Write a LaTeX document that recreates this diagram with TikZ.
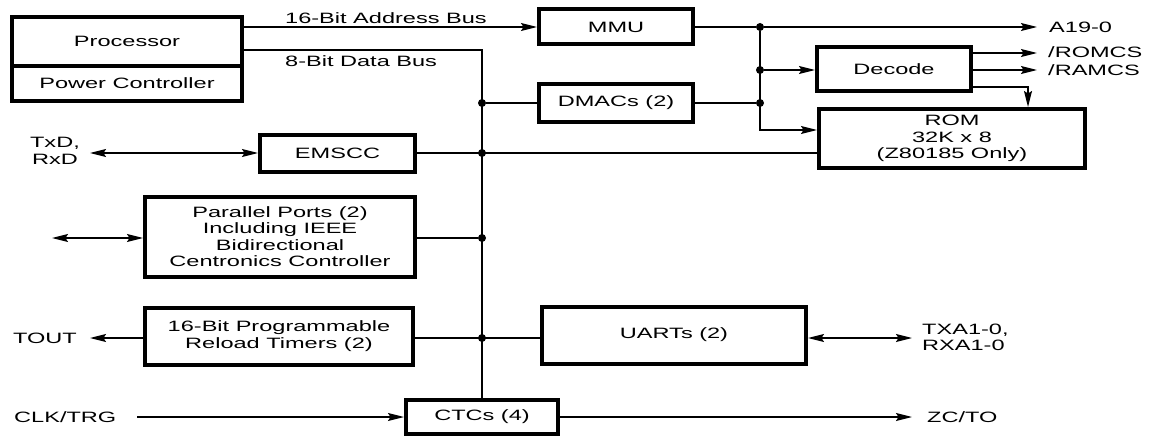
\documentclass[tikz,border=0pt]{standalone}
\usepackage{fontspec}
\setmainfont{Liberation Sans}[FakeStretch=1.57]
\usepackage{tikz}
\usetikzlibrary{arrows.meta,positioning}

\begin{document}
\begin{tikzpicture}[x=1pt, y=-1pt,
    font=\fontsize{15}{16.5}\selectfont,
    blk/.style={draw, line width=4pt, inner sep=2pt, align=center},
    conn/.style={line width=1.4pt},
    arr/.style={conn, -{Stealth[length=16pt,width=8pt,inset=2.5pt]}},
    darr/.style={conn, {Stealth[length=16pt,width=8pt,inset=2.5pt]}-{Stealth[length=16pt,width=8pt,inset=2.5pt]}},
    jdot/.style={circle, fill, inner sep=0pt, minimum size=8pt},
    lbl/.style={inner sep=0pt}]
    \useasboundingbox (0,0) rectangle (1152,436);

    % Processor block
    \node[blk, minimum width=230, minimum height=49] (proc) at (127,41.5) {Processor};
    \node[blk, minimum width=230, minimum height=35, below=-4pt of proc] (power) {Power Controller};

    % Blocks on the buses
    \node[blk, minimum width=154, minimum height=35] (mmu) at (616,27) {MMU};
    \node[blk, minimum width=154, minimum height=37] (dmacs) at (616,103) {DMACs (2)};
    \node[blk, minimum width=154, minimum height=44] (decode) at (894,69) {Decode};
    \node[blk, minimum width=266, minimum height=59] (rom) at (952,138.5) {ROM\\32K x 8\\(Z80185 Only)};
    \node[blk, minimum width=155, minimum height=37] (emscc) at (337.5,153) {EMSCC};
    \node[blk, minimum width=270, minimum height=80] (pports) at (280,236.5)
        {Parallel Ports (2)\\Including IEEE\\Bidirectional\\Centronics Controller};
    \node[blk, minimum width=268, minimum height=57] (timers) at (279,336)
        {16-Bit Programmable\\Reload Timers (2)};
    \node[blk, minimum width=264, minimum height=57] (uarts) at (674,335) {UARTs (2)};
    \node[blk, minimum width=152, minimum height=34] (ctcs) at (482,417) {CTCs (4)};

    % Junctions
    \coordinate (dcorner) at (482,50);
    \node[jdot] (b1) at (482,103) {};
    \node[jdot] (b2) at (482,153) {};
    \node[jdot] (b3) at (482,238) {};
    \node[jdot] (b4) at (482,338) {};
    \node[jdot] (j1) at (760,27) {};
    \node[jdot] (j2) at (760,70) {};
    \node[jdot] (j3) at (760,103) {};

    % Free ends
    \coordinate (a19) at (1037,27);
    \coordinate (romcs) at (1037,53);
    \coordinate (ramcs) at (1037,70);
    \coordinate (rtap) at (1028,87);
    \coordinate (txd) at (90,153);
    \coordinate (ppext) at (52,238);
    \coordinate (tout) at (90,338);
    \coordinate (txa) at (912,338);
    \coordinate (clk) at (137,417);
    \coordinate (zcto) at (912,417);

    % Address side
    \draw[arr] (proc.east |- mmu.west) -- (mmu.west);
    \draw[conn] (mmu.east) -- (j1);
    \draw[arr] (j1) -- (a19);
    \draw[arr] (j1) |- (rom.west |- 0,130);
    \draw[arr] (j2) -- (decode.west |- j2);
    \draw[conn] (dmacs.east) -- (j3);
    \draw[arr] (decode.east |- romcs) -- (romcs);
    \draw[arr] (decode.east |- ramcs) -- (ramcs);
    \draw[arr] (decode.east |- rtap) -| (rtap |- rom.north);

    % Data bus
    \draw[conn] (proc.east |- dcorner) -- (dcorner) -- (ctcs.north);
    \draw[conn] (b1) -- (dmacs.west);
    \draw[conn] (emscc.east) -- (rom.west |- emscc.east);
    \draw[conn] (pports.east |- b3) -- (b3);
    \draw[conn] (timers.east |- b4) -- (uarts.west |- b4);

    % Outside connections
    \draw[darr] (txd) -- (emscc.west);
    \draw[darr] (ppext) -- (pports.west |- ppext);
    \draw[arr] (timers.west |- tout) -- (tout);
    \draw[darr] (uarts.east |- txa) -- (txa);
    \draw[arr] (clk) -- (ctcs.west);
    \draw[arr] (ctcs.east) -- (zcto);

    % Labels
    \node[lbl, anchor=base west] (abuslbl) at (285,24) {16-Bit Address Bus};
    \node[lbl, anchor=base west] (dbuslbl) at (285,66.5) {8-Bit Data Bus};
    \node[lbl, anchor=west] (a19lbl) at (1049,27) {A19-0};
    \node[lbl, anchor=west] (romcslbl) at (1048,52) {/ROMCS};
    \node[lbl, anchor=west] (ramcslbl) at (1048,70) {/RAMCS};
    \node[lbl, anchor=east, align=center] (txdlbl) at (80,151) {TxD,\\RxD};
    \node[lbl, anchor=west] (toutlbl) at (13,338) {TOUT};
    \node[lbl, anchor=west, align=left] (txalbl) at (922,337.5) {TXA1-0,\\RXA1-0};
    \node[lbl, anchor=west] (clklbl) at (14,417) {CLK/TRG};
    \node[lbl, anchor=west] (zctolbl) at (927,417) {ZC/TO};
\end{tikzpicture}
\end{document}
